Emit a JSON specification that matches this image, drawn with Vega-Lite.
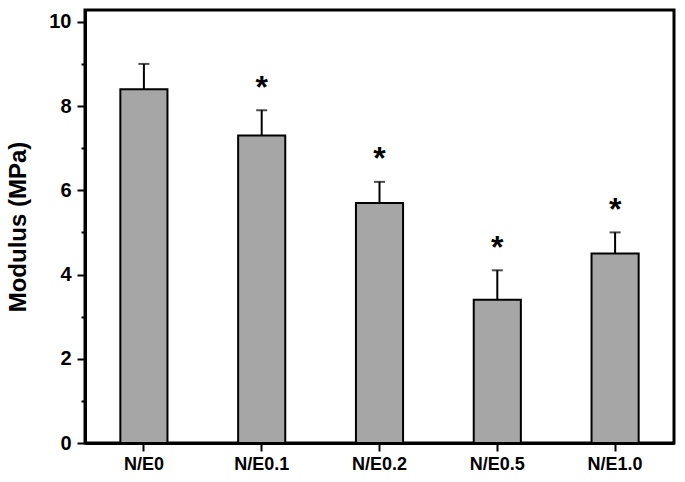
{
  "$schema": "https://vega.github.io/schema/vega-lite/v6.json",
  "width": 589,
  "height": 433,
  "autosize": {"type": "none"},
  "padding": {"left": 85, "top": 10, "right": 11, "bottom": 39},
  "background": "white",
  "config": {
    "view": {"stroke": "black", "strokeWidth": 3},
    "font": "Liberation Sans"
  },
  "data": {
    "values": [
      {"group": "N/E0", "modulus": 8.4, "upper": 9.0, "star": "", "starY": 9.7},
      {"group": "N/E0.1", "modulus": 7.3, "upper": 7.9, "star": "*", "starY": 8.6},
      {"group": "N/E0.2", "modulus": 5.7, "upper": 6.2, "star": "*", "starY": 6.9},
      {"group": "N/E0.5", "modulus": 3.4, "upper": 4.1, "star": "*", "starY": 4.8},
      {"group": "N/E1.0", "modulus": 4.5, "upper": 5.0, "star": "*", "starY": 5.7}
    ]
  },
  "encoding": {
    "x": {
      "field": "group",
      "type": "nominal",
      "sort": null,
      "scale": {"paddingInner": 0.6, "paddingOuter": 0.3},
      "axis": {
        "title": null,
        "labelAngle": 0,
        "labelFont": "Liberation Sans",
        "labelFontWeight": "bold",
        "labelFontSize": 18,
        "labelColor": "black",
        "labelPadding": 4,
        "domainColor": "black",
        "domainWidth": 3,
        "tickColor": "black",
        "tickWidth": 2,
        "tickSize": 8
      }
    }
  },
  "layer": [
    {
      "mark": {"type": "bar", "fill": "#a6a6a6", "stroke": "black", "strokeWidth": 2},
      "encoding": {
        "y": {
          "field": "modulus",
          "type": "quantitative",
          "scale": {"domain": [0, 10.28], "nice": false},
          "axis": {
            "title": "Modulus (MPa)",
            "titleFont": "Liberation Sans",
            "titleFontWeight": "bold",
            "titleFontSize": 24,
            "titleColor": "black",
            "titlePadding": 18,
            "values": [0, 1, 2, 3, 4, 5, 6, 7, 8, 9, 10],
            "labelExpr": "datum.value % 2 === 0 ? datum.label : ''",
            "labelFont": "Liberation Sans",
            "labelFontWeight": "bold",
            "labelFontSize": 20,
            "labelColor": "black",
            "labelPadding": 6,
            "grid": false,
            "domainColor": "black",
            "domainWidth": 3,
            "tickColor": "black",
            "tickWidth": 2,
            "tickSize": {"condition": {"test": "datum.value % 2 === 1", "value": 4}, "value": 8}
          }
        }
      }
    },
    {
      "mark": {"type": "rule", "color": "black", "strokeWidth": 2},
      "encoding": {
        "y": {"field": "modulus", "type": "quantitative"},
        "y2": {"field": "upper"}
      }
    },
    {
      "mark": {"type": "tick", "color": "black", "thickness": 2, "size": 11, "orient": "horizontal"},
      "encoding": {
        "y": {"field": "upper", "type": "quantitative"}
      }
    },
    {
      "mark": {"type": "text", "font": "Liberation Sans", "fontWeight": "bold", "fontSize": 32, "baseline": "middle", "dy": 7, "color": "black"},
      "encoding": {
        "y": {"field": "starY", "type": "quantitative"},
        "text": {"field": "star"}
      }
    }
  ]
}
